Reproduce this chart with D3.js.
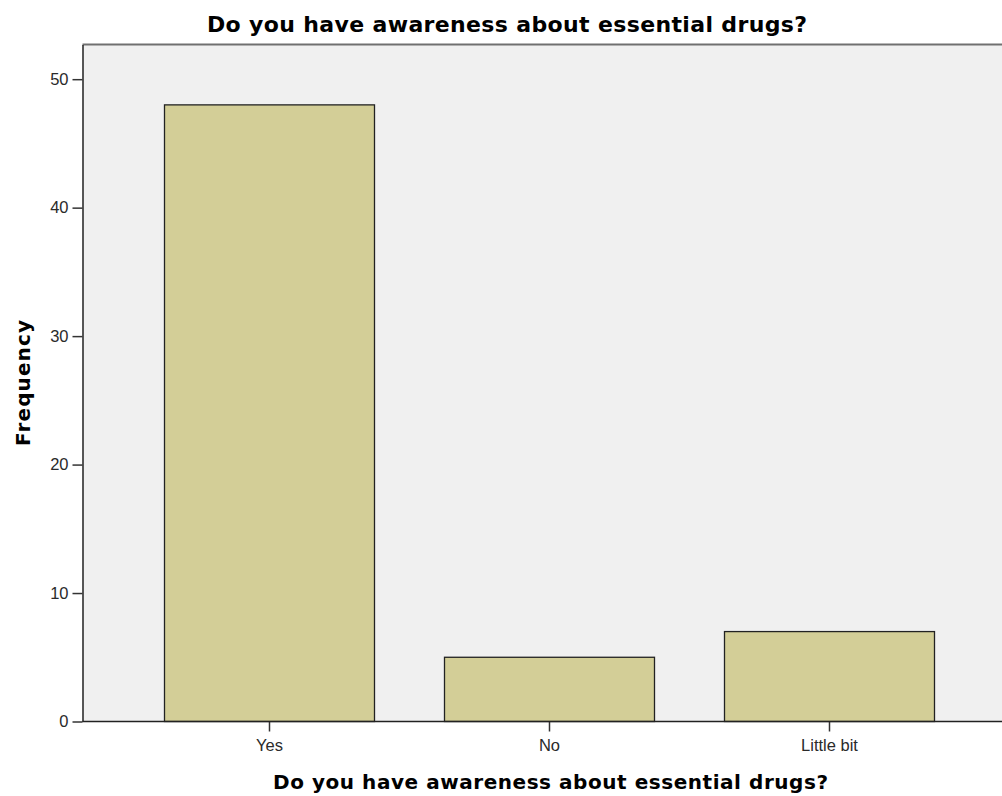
<!DOCTYPE html>
<html>
<head>
<meta charset="utf-8">
<script src="https://cdn.jsdelivr.net/npm/d3@7"></script>
<style>
  html, body { margin: 0; padding: 0; background: #ffffff; }
  svg { display: block; }
</style>
</head>
<body>
<svg id="chart" width="1002" height="796"></svg>
<script>
// ---- Data ----
const categories = ["Yes", "No", "Little bit"];
const frequencies = [48, 5, 7];
const yTicks = [0, 10, 20, 30, 40, 50];
const yDomainMax = 52.7;
const chartTitle = "Do you have awareness about essential drugs?";
const xAxisTitle = "Do you have awareness about essential drugs?";
const yAxisTitle = "Frequency";

// ---- Layout ----
const svg = d3.select("#chart");
const W = 1002, H = 796;
const plot = { left: 82.5, top: 44.5, bottom: 721.5, right: 1016.5 };

const x = d3.scaleBand()
  .domain(categories)
  .range([129.5, 969.5])
  .paddingInner(0.25)
  .paddingOuter(0.125);

const y = d3.scaleLinear()
  .domain([0, yDomainMax])
  .range([plot.bottom, plot.top]);

// plot background
svg.append("rect")
  .attr("x", plot.left)
  .attr("y", plot.top)
  .attr("width", plot.right - plot.left)
  .attr("height", plot.bottom - plot.top)
  .attr("fill", "#f0f0f0");

// top frame line
svg.append("line")
  .attr("x1", plot.left).attr("x2", plot.right)
  .attr("y1", plot.top).attr("y2", plot.top)
  .attr("stroke", "#707070").attr("stroke-width", 2);

// bars
const data = categories.map((c, i) => ({ cat: c, val: frequencies[i] }));
svg.append("g").selectAll("rect")
  .data(data)
  .join("rect")
  .attr("x", d => x(d.cat))
  .attr("y", d => y(d.val))
  .attr("width", x.bandwidth())
  .attr("height", d => y(0) - y(d.val))
  .attr("fill", "#d3ce97")
  .attr("stroke", "#222222")
  .attr("stroke-width", 1.3);

// y axis
const yAxis = svg.append("g")
  .attr("transform", `translate(${plot.left},0)`)
  .call(d3.axisLeft(y).tickValues(yTicks).tickFormat(d3.format("d")).tickSize(10).tickSizeOuter(0).tickPadding(4));
yAxis.select(".domain").attr("stroke", "#222").attr("stroke-width", 1.5);
yAxis.selectAll(".tick line").attr("stroke", "#333").attr("stroke-width", 1.5);
yAxis.selectAll(".tick text")
  .attr("font-family", "'Liberation Sans', Arial, sans-serif")
  .attr("font-size", "16.5px")
  .attr("fill", "#2a2a2a");

// x axis
const xAxis = svg.append("g")
  .attr("transform", `translate(0,${plot.bottom})`)
  .call(d3.axisBottom(x).tickSize(10).tickSizeOuter(0).tickPadding(8));
xAxis.select(".domain").remove();
svg.append("line")
  .attr("x1", plot.left).attr("x2", W)
  .attr("y1", plot.bottom).attr("y2", plot.bottom)
  .attr("stroke", "#222").attr("stroke-width", 1.5);
xAxis.selectAll(".tick line").attr("stroke", "#333").attr("stroke-width", 1.5);
xAxis.selectAll(".tick text")
  .attr("font-family", "'Liberation Sans', Arial, sans-serif")
  .attr("font-size", "16.5px")
  .attr("fill", "#2a2a2a");

// title
svg.append("text")
  .attr("x", 507).attr("y", 31.5)
  .attr("text-anchor", "middle")
  .attr("font-family", "'DejaVu Sans', Verdana, sans-serif")
  .attr("font-weight", "bold")
  .attr("font-size", "22px")
  .attr("textLength", 600)
  .attr("lengthAdjust", "spacing")
  .attr("fill", "#000")
  .text(chartTitle);

// x axis title
svg.append("text")
  .attr("x", 550.5).attr("y", 788.5)
  .attr("text-anchor", "middle")
  .attr("font-family", "'DejaVu Sans', Verdana, sans-serif")
  .attr("font-weight", "bold")
  .attr("font-size", "20px")
  .attr("textLength", 555)
  .attr("lengthAdjust", "spacing")
  .attr("fill", "#000")
  .text(xAxisTitle);

// y axis title
svg.append("text")
  .attr("transform", "translate(30,383) rotate(-90)")
  .attr("text-anchor", "middle")
  .attr("font-family", "'DejaVu Sans', Verdana, sans-serif")
  .attr("font-weight", "bold")
  .attr("font-size", "20px")
  .attr("textLength", 126)
  .attr("lengthAdjust", "spacing")
  .attr("fill", "#000")
  .text(yAxisTitle);
</script>
</body>
</html>
